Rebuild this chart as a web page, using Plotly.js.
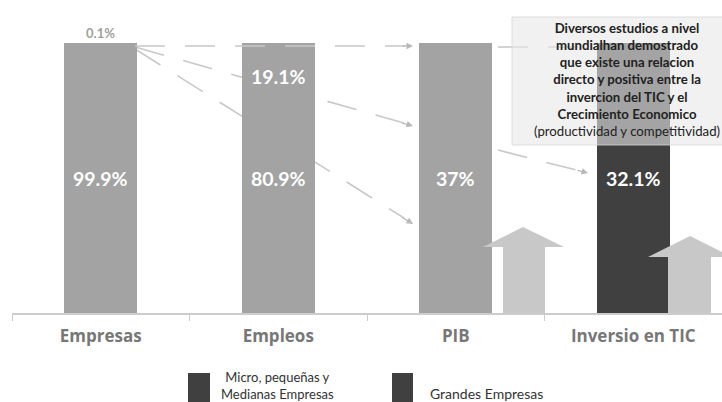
<!DOCTYPE html>
<html><head><meta charset="utf-8">
<script src="https://cdn.plot.ly/plotly-3.0.1.min.js"></script>
<style>html,body{margin:0;padding:0;background:#fff;}#chart{width:722px;height:402px;}</style>
</head><body><div id="chart"></div>
<script>
// ---- data ----
var categories = ['Empresas', 'Empleos', 'PIB', 'Inversio en TIC'];
var mipyme = [99.9, 80.9, 37, 32.1];
var grandes = [0.1, 19.1, 63, 67.9];
var mipymeLabels = ['99.9%', '80.9%', '37%', '32.1%'];
var grandesLabels = ['0.1%', '19.1%', '', ''];
var seriesNames = ['Micro, pequeñas y<br>Medianas Empresas', 'Grandes Empresas'];
var boxLines = ['<b>Diversos estudios a nivel</b>', '<b>mundialhan demostrado</b>', '<b>que existe una relacion</b>',
  '<b>directo y positiva entre la</b>', '<b>invercion del TIC y el</b>', '<b>Crecimiento Economico</b>',
  '(productividad y competitividad)'];

// ---- style ----
var GREY = '#a3a3a3', DARK = '#404040', LIGHT = '#c8c8c8', FONT = 'Lato, "Open Sans", sans-serif';
var barColors = [GREY, GREY, GREY, DARK];
var L = 12, T = 16, W = 710, H = 297; // plot area in px
function xp(px) { return (px - L) / W; }
function yp(py) { return (T + H - py) / H; }

var traces = [
  { type: 'bar', x: categories, y: mipyme, name: seriesNames[0], width: 0.41,
    marker: { color: barColors }, hoverinfo: 'none', showlegend: false },
  { type: 'bar', x: categories, y: grandes, name: seriesNames[1], width: 0.41,
    marker: { color: barColors }, hoverinfo: 'none', showlegend: false }
];

var annotations = [];
categories.forEach(function (c, i) {
  annotations.push({ x: c, y: 50, xref: 'x', yref: 'y', text: '<b>' + mipymeLabels[i] + '</b>', showarrow: false,
    xanchor: 'center', yanchor: 'middle', font: { family: FONT, size: 19.5, color: '#ffffff' } });
});
annotations.push({ x: categories[1], y: 87.5, xref: 'x', yref: 'y', text: '<b>' + grandesLabels[1] + '</b>', showarrow: false,
  xanchor: 'center', yanchor: 'middle', font: { family: FONT, size: 19.5, color: '#ffffff' } });
annotations.push({ x: categories[0], y: mipyme[0] + grandes[0] + 3.7, xref: 'x', yref: 'y', text: '<b>' + grandesLabels[0] + '</b>', showarrow: false,
  xanchor: 'center', yanchor: 'middle', font: { family: FONT, size: 13, color: '#a0a0a0' } });

// connector lines (px)
var connectors = [
  { a: [135, 46], b: [404, 46], layer: 'above' },
  { a: [135, 47], b: [404, 123], layer: 'below' },
  { a: [135, 49], b: [404, 218], layer: 'below' },
  { a: [498, 47], b: [595, 47], layer: 'below' },
  { a: [498, 150], b: [580, 171], layer: 'below' }
];
var heads = [[413, 46, -12, 0], [413, 126, -12, -3.4], [413, 224, -12, -7.5], [588, 173, -12, -3.1]];

var shapes = [];
connectors.forEach(function (c) {
  shapes.push({ type: 'line', xref: 'paper', yref: 'paper', x0: xp(c.a[0]), y0: yp(c.a[1]), x1: xp(c.b[0]), y1: yp(c.b[1]),
    line: { color: LIGHT, width: 1.6, dash: '30px,20px' }, layer: c.layer });
});
heads.forEach(function (h) {
  annotations.push({ x: xp(h[0]), y: yp(h[1]), xref: 'paper', yref: 'paper', ax: h[2], ay: h[3], text: '',
    showarrow: true, arrowhead: 2, arrowsize: 1, arrowwidth: 1.3, arrowcolor: '#b8b8b8' });
});

// big up arrows
function upArrow(hl, apexX, apexY, hr, hy, sl, sr) {
  return { type: 'path', xref: 'paper', yref: 'paper', layer: 'above', fillcolor: LIGHT, line: { width: 0 },
    path: 'M' + xp(sl) + ',' + yp(313) + ' L' + xp(sl) + ',' + yp(hy) + ' L' + xp(hl) + ',' + yp(hy) +
      ' L' + xp(apexX) + ',' + yp(apexY) + ' L' + xp(hr) + ',' + yp(hy) + ' L' + xp(sr) + ',' + yp(hy) +
      ' L' + xp(sr) + ',' + yp(313) + ' Z' };
}
shapes.push(upArrow(483, 523, 227, 564, 247, 503, 545));
shapes.push(upArrow(648, 690, 236, 732, 257, 668, 711));

// text box
shapes.push({ type: 'rect', xref: 'paper', yref: 'paper', layer: 'above', x0: xp(512), x1: xp(740), y0: yp(145), y1: yp(17),
  fillcolor: 'rgba(232,232,232,0.6)', line: { color: 'rgba(215,215,215,0.8)', width: 1 } });
annotations.push({ xref: 'paper', yref: 'paper', x: xp(627), y: yp(79), xanchor: 'center', yanchor: 'middle',
  text: boxLines.join('<br>'), showarrow: false, align: 'center', font: { family: FONT, size: 13.2, color: '#222' } });

// legend
shapes.push({ type: 'rect', xref: 'paper', yref: 'paper', x0: xp(188), x1: xp(210), y0: yp(404), y1: yp(373), fillcolor: DARK, line: { width: 0 } });
shapes.push({ type: 'rect', xref: 'paper', yref: 'paper', x0: xp(392), x1: xp(413), y0: yp(404), y1: yp(373), fillcolor: DARK, line: { width: 0 } });
annotations.push({ xref: 'paper', yref: 'paper', x: xp(277), y: yp(386), xanchor: 'center', yanchor: 'middle', borderpad: 0,
  text: seriesNames[0], showarrow: false, align: 'center', font: { family: FONT, size: 13, color: '#333' } });
annotations.push({ xref: 'paper', yref: 'paper', x: xp(428), y: yp(393), xanchor: 'left', yanchor: 'middle',
  text: seriesNames[1], showarrow: false, font: { family: FONT, size: 14, color: '#333' } });

var layout = {
  width: 722, height: 402, margin: { l: L, r: 0, t: T, b: 402 - T - H },
  paper_bgcolor: '#fff', plot_bgcolor: '#fff', barmode: 'stack', showlegend: false,
  xaxis: { type: 'category', range: [-0.5, 3.5], showline: true, linecolor: '#cccccc', linewidth: 1.5,
    ticks: 'outside', tickson: 'boundaries', ticklen: 6, tickcolor: '#cccccc', showgrid: false, zeroline: false,
    ticklabelstandoff: 7, tickfont: { family: '"Open Sans", sans-serif', size: 17, color: '#777777', weight: 'bold' } },
  yaxis: { range: [0, 110], visible: false, fixedrange: true },
  shapes: shapes, annotations: annotations
};
Plotly.newPlot('chart', traces, layout, { staticPlot: true });
</script></body></html>
